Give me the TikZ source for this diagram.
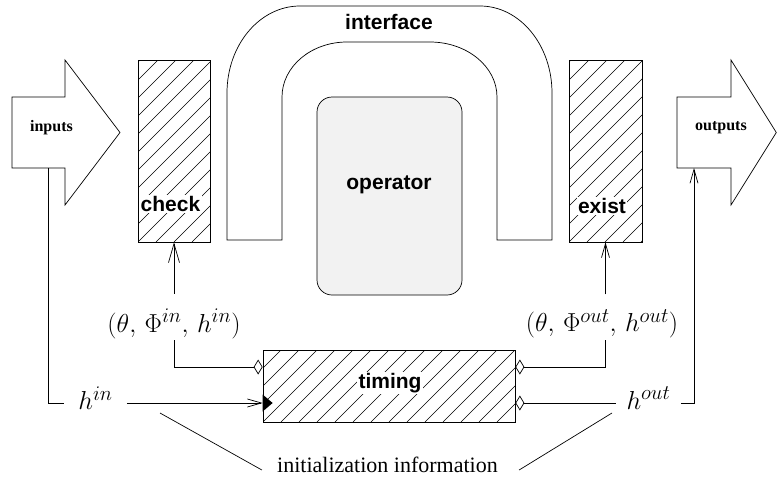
\RequirePackage{fix-cm}
\documentclass[tikz,border=0pt]{standalone}
\usepackage[no-math]{fontspec}
\setmainfont{Liberation Serif}
\newfontfamily\hvfont{Liberation Sans}
\usetikzlibrary{arrows.meta,calc}
\definecolor{opfill}{RGB}{242,242,242}
\DeclareMathSizes{26}{26}{20.8}{15.6}
\begin{document}
\begin{tikzpicture}[x=1pt,y=-1pt,line width=0.7pt,
  hatched/.style={draw,inner sep=0pt,
    path picture={\foreach \i in {-30,...,30}{\draw[line width=0.55pt] ($(path picture bounding box.south west)+(\i*18,0)$) -- ++(400,-400);}}},
  lbl/.style={font=\hvfont\bfseries\fontsize{21}{25}\selectfont,inner sep=1.5pt},
  wlbl/.style={lbl,fill=white},
  arrlbl/.style={font=\bfseries\fontsize{16}{19}\selectfont,inner sep=0pt},
  mth/.style={font=\fontsize{26}{30}\selectfont,inner sep=0pt},
  arrA/.style={-{Straight Barb[length=19pt,width=11pt]}},
  arrB/.style={-{Straight Barb[length=14pt,width=8pt]}},
  diaE/.style={-{Diamond[open,length=9pt,width=15pt]}},
  diaS/.style={{Diamond[open,length=9pt,width=15pt]}-}]
\useasboundingbox (0,0) rectangle (777,477);

% inputs / outputs arrows
\draw (12,97) -- (65,97) -- (65,60) -- (120,132.5) -- (65,205) -- (65,168) -- (12,168) -- cycle;
\node[arrlbl] (inputs) at (51.5,128) {inputs};
\coordinate (inbot) at (48,168);
\draw (677,97) -- (731,97) -- (731,60) -- (776.3,132.5) -- (731,205) -- (731,168) -- (677,168) -- cycle;
\node[arrlbl] (outputs) at (721,128) {outputs};
\coordinate (outbot) at (694,168);

% interface
\draw (227,240) -- (227,93) arc[start angle=180,end angle=270,x radius=73,y radius=87]
  -- (480,6) arc[start angle=270,end angle=360,x radius=72,y radius=87]
  -- (552,240) -- (497,240) -- (497,97) arc[start angle=0,end angle=-90,x radius=67,y radius=55]
  -- (347,42) arc[start angle=-90,end angle=-180,x radius=65,y radius=55]
  -- (282,240) -- cycle;
\node[lbl] (interface) at (389,22) {interface};

% operator
\node[draw,rounded corners=15pt,fill=opfill,minimum width=145pt,minimum height=198pt,inner sep=0pt] (op) at (389.5,196) {};
\node[lbl] (optext) at (389,185) {operator};

% check / exist
\node[hatched,minimum width=72pt,minimum height=182pt] (check) at (174,151) {};
\node[wlbl] (checkt) at (170.5,204) {check};
\node[hatched,minimum width=73pt,minimum height=182pt] (exist) at (605.5,151) {};
\node[wlbl] (existt) at (602,206) {exist};

% timing
\node[hatched,minimum width=252pt,minimum height=72pt] (timing) at (389,386) {};
\node[wlbl] (timingt) at (390,383) {timing};

% labels
\node[mth] (lin) at (174,324) {$(\theta,\hspace{4pt}\Phi^{in},\hspace{4pt}h^{in})$};
\node[mth] (lout) at (602,324) {$(\theta,\hspace{4pt}\Phi^{out},\hspace{4pt}h^{out})$};
\node[mth,inner xsep=14pt] (hin) at (95.5,398) {$h^{in}$};
\node[mth,inner xsep=10pt] (hout) at (648.5,398) {$h^{out}$};
\node[font=\fontsize{22}{26}\selectfont,inner sep=0pt] (init) at (387.5,465) {initialization information};

% connectors left
\draw[arrA] ($(check.south |- lin.north)+(0,-15)$) -- (check.south);
\draw[diaE] ([yshift=-1pt]lin.south) |- ([yshift=19pt]timing.west);
\draw (inbot) |- ([yshift=-5pt]hin.west);
\draw[arrB] ([yshift=-5pt]hin.east) -- ([yshift=-17pt]timing.west);
\fill ([yshift=-17pt]timing.west) ++(0,-8.5) -- ++(10,8.5) -- ++(-10,8.5) -- cycle;

% connectors right
\draw[arrB] ($(exist.south |- lout.north)+(0,-15)$) -- (exist.south);
\draw[diaS] ([yshift=19pt]timing.east) -| ($(exist.south |- lout.south)+(0,1)$);
\draw[diaS] ([yshift=-17pt]timing.east) -- ([yshift=-5pt]hout.west);
\draw[arrB] ([yshift=-5pt]hout.east) -| (outbot);

% initialization lines
\coordinate (initL) at (160,413);
\coordinate (initR) at (612,413);
\draw (initL) -- ($(init.west)+(-15,5)$);
\draw (initR) -- ($(init.east)+(21,5)$);
\end{tikzpicture}
\end{document}
